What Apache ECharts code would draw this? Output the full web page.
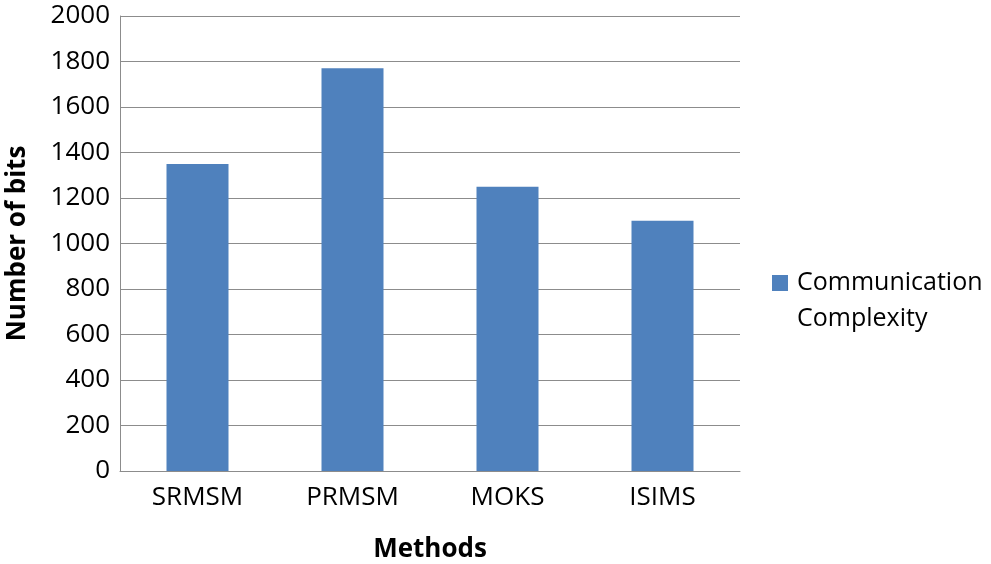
<!DOCTYPE html>
<html>
<head>
<meta charset="utf-8">
<script src="https://cdn.jsdelivr.net/npm/echarts@6/dist/echarts.min.js"></script>
<style>
    html, body { margin: 0; padding: 0; background: #fff; }
    #chart { width: 991px; height: 564px; }
</style>
</head>
<body>
<div id="chart"></div>
<script>
    // 数据
    var categories = ['SRMSM', 'PRMSM', 'MOKS', 'ISIMS'];
    var bits = [1350, 1770, 1250, 1100];
    var seriesName = 'Communication\nComplexity';

    var myChart = echarts.init(document.getElementById('chart'));
    var font = '"Open Sans", "Noto Sans", sans-serif';

    var option = {
        animation: false,
        color: ['#4f81bd'],
        grid: {
            left: 120,
            top: 16,
            right: 251,
            bottom: 93,
            containLabel: false,
            outerBoundsMode: 'none'
        },
        legend: {
            left: 772,
            top: 229,
            padding: 0,
            orient: 'vertical',
            itemWidth: 16,
            itemHeight: 16,
            icon: 'rect',
            // 让第一行文字和色块对齐
            formatter: function (name) { return ' \n' + name; },
            textStyle: {
                fontFamily: font,
                fontSize: 25,
                color: '#000',
                lineHeight: 36,
                padding: [0, 0, 0, 4]
            }
        },
        xAxis: {
            type: 'category',
            data: categories,
            name: 'Methods',
            nameLocation: 'middle',
            nameGap: 66,
            nameTextStyle: {
                fontFamily: font,
                fontSize: 26,
                fontWeight: 'bold',
                color: '#000'
            },
            axisTick: { show: false },
            axisLine: { show: true, lineStyle: { color: '#8c8c8c' } },
            axisLabel: {
                margin: 14,
                fontFamily: font,
                fontSize: 26,
                color: '#000'
            }
        },
        yAxis: {
            type: 'value',
            min: 0,
            max: 2000,
            interval: 200,
            name: 'Number of bits',
            nameLocation: 'middle',
            nameGap: 89,
            nameTextStyle: {
                fontFamily: font,
                fontSize: 26,
                fontWeight: 'bold',
                color: '#000'
            },
            axisLine: { show: true, lineStyle: { color: '#8c8c8c' } },
            axisTick: { show: false },
            splitLine: { lineStyle: { color: '#8c8c8c' } },
            axisLabel: {
                margin: 10,
                fontFamily: font,
                fontSize: 26,
                color: '#000',
                formatter: function (v) { return String(v); }
            }
        },
        series: [{
            name: seriesName,
            type: 'bar',
            barWidth: '40%',
            data: bits
        }]
    };

    myChart.setOption(option);
</script>
</body>
</html>
